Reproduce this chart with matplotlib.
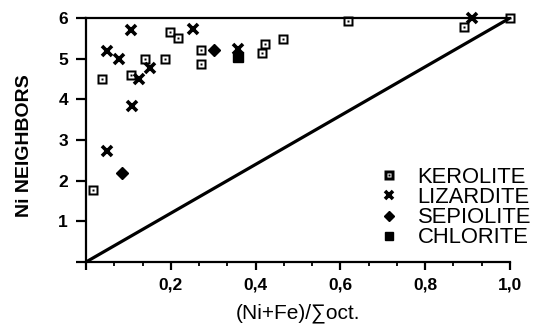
import matplotlib
matplotlib.use("Agg")
import matplotlib.pyplot as plt
from matplotlib.path import Path
from matplotlib.ticker import MultipleLocator, FixedLocator, FixedFormatter
import numpy as np

plt.rcParams['font.family'] = ['Liberation Sans', 'DejaVu Sans']

# ---- data ----
kerolite_x = [0.017, 0.037, 0.107, 0.139, 0.187, 0.198, 0.217, 0.271, 0.271,
              0.415, 0.423, 0.464, 0.617, 0.892, 1.0]
kerolite_y = [1.78, 4.49, 4.60, 5.00, 5.00, 5.65, 5.52, 5.22, 4.86,
              5.15, 5.36, 5.48, 5.92, 5.79, 6.0]
lizardite_x = [0.049, 0.050, 0.078, 0.107, 0.109, 0.125, 0.151, 0.253, 0.358, 0.911]
lizardite_y = [5.19, 2.72, 4.99, 5.71, 3.83, 4.49, 4.77, 5.73, 5.23, 6.0]
sepiolite_x = [0.084, 0.302]
sepiolite_y = [2.19, 5.21]
chlorite_x = [0.358]
chlorite_y = [5.05]
line_x = [0.0, 1.0]
line_y = [0.0, 6.0]

x_ticks = [0.0, 0.2, 0.4, 0.6, 0.8, 1.0]
x_ticklabels = ['', '0,2', '0,4', '0,6', '0,8', '1,0']
y_ticks = [0, 1, 2, 3, 4, 5, 6]
y_ticklabels = ['', '1', '2', '3', '4', '5', '6']
labels = ['KEROLITE', 'LIZARDITE', 'SEPIOLITE', 'CHLORITE']

# ---- kerolite marker: framed square with dot ----
def sq(h, rev=False):
    v = [(-h, -h), (h, -h), (h, h), (-h, h), (-h, -h)]
    if rev:
        v = v[::-1]
    return v
verts = sq(1.0) + sq(0.5, True) + sq(0.2)
codes = ([Path.MOVETO] + [Path.LINETO] * 3 + [Path.CLOSEPOLY]) * 3
ker_marker = Path(verts, codes)

fig = plt.figure(figsize=(5.33, 3.24), dpi=100)
ax = fig.add_axes([86/533, 1 - 262/324, (510 - 86)/533, (262 - 18)/324])

ax.plot(line_x, line_y, color='black', lw=2.3, solid_capstyle='butt', zorder=2)

ax.plot(kerolite_x, kerolite_y, ls='none', marker=ker_marker, ms=7.5,
        color='black', mec='none', clip_on=False, zorder=3, label=labels[0])
ax.plot(lizardite_x, lizardite_y, ls='none', marker='x', ms=6.5, mew=2.6,
        color='black', clip_on=False, zorder=3, label=labels[1])
ax.plot(sepiolite_x, sepiolite_y, ls='none', marker='D', ms=6,
        color='black', clip_on=False, zorder=3, label=labels[2])
ax.plot(chlorite_x, chlorite_y, ls='none', marker='s', ms=6.5,
        color='black', clip_on=False, zorder=3, label=labels[3])

ax.set_xlim(0, 1.0)
ax.set_ylim(0, 6)

for s in ['left', 'bottom', 'top']:
    ax.spines[s].set_linewidth(1.6)
ax.spines['right'].set_visible(False)

ax.xaxis.set_major_locator(FixedLocator(x_ticks))
ax.xaxis.set_major_formatter(FixedFormatter(x_ticklabels))
ax.xaxis.set_minor_locator(MultipleLocator(0.2 / 3))
ax.yaxis.set_major_locator(FixedLocator(y_ticks))
ax.yaxis.set_major_formatter(FixedFormatter(y_ticklabels))

ax.tick_params(axis='x', which='major', direction='out', length=6, width=1.6,
               pad=5, labelsize=12.5, top=False)
ax.tick_params(axis='x', which='minor', direction='out', length=3, width=1.3, top=False)
ax.tick_params(axis='y', which='major', direction='out', length=7, width=1.6,
               pad=6, labelsize=12.5, right=False)
for lab in ax.get_xticklabels() + ax.get_yticklabels():
    lab.set_fontweight('bold')

ax.set_xlabel('(Ni+Fe)/∑oct.', fontsize=15)
ax.xaxis.set_label_coords(0.5, -0.17)
ax.set_ylabel('Ni NEIGHBORS', fontsize=14, fontweight='bold')
ax.yaxis.set_label_coords(-0.125, 0.477)

leg = ax.legend(loc='upper left', bbox_to_anchor=(378/533, 1 - 167/324),
                bbox_transform=fig.transFigure, frameon=False, fontsize=15.8,
                handlelength=1.0, handletextpad=0.8, labelspacing=-0.04,
                borderpad=0, borderaxespad=0, markerscale=0.9)

fig.savefig('out.png', dpi=100)
